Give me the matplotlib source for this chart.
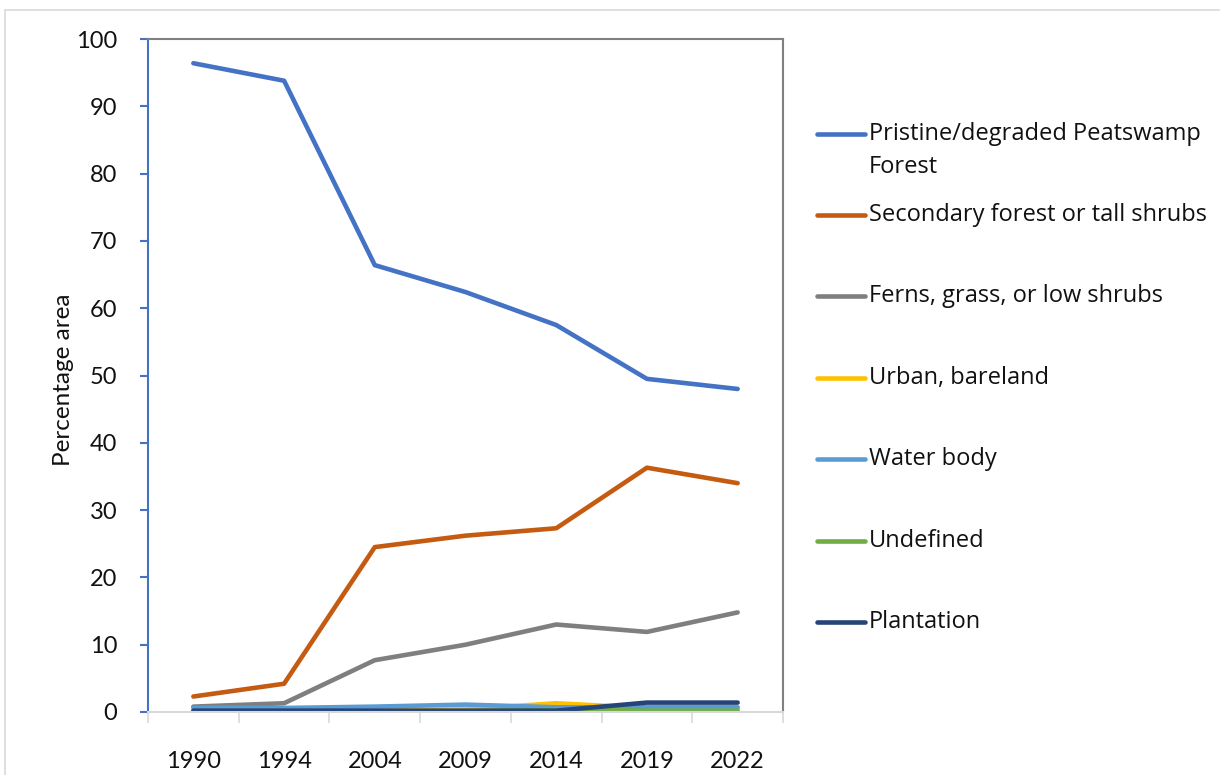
import matplotlib.pyplot as plt
from matplotlib.lines import Line2D
from matplotlib.patches import Rectangle

# Land cover share per survey year (% of study area)
years = ['1990', '1994', '2004', '2009', '2014', '2019', '2022']
peatswamp = [96.4, 93.8, 66.4, 62.4, 57.5, 49.5, 48.0]
secondary = [2.3, 4.2, 24.5, 26.2, 27.3, 36.3, 34.0]
ferns = [0.8, 1.3, 7.7, 10.0, 13.0, 11.9, 14.8]
urban = [0.1, 0.1, 0.2, 0.4, 1.3, 0.6, 0.6]
water = [0.6, 0.6, 0.8, 1.1, 0.7, 0.7, 0.7]
undefined = [0.0, 0.0, 0.0, 0.1, 0.4, 0.2, 0.2]
plantation = [0.2, 0.2, 0.2, 0.2, 0.2, 1.4, 1.4]

labels = [['Pristine/degraded Peatswamp', 'Forest'], ['Secondary forest or tall shrubs'],
          ['Ferns, grass, or low shrubs'], ['Urban, bareland'], ['Water body'],
          ['Undefined'], ['Plantation']]
series = [peatswamp, secondary, ferns, urban, water, undefined, plantation]
colors = ['#4472C4', '#C55A11', '#7F7F7F', '#FFC000', '#5B9BD5', '#70AD47', '#264478']

tick_font = 'Lato'
legend_font = 'Open Sans'
W, H = 1220, 775

fig = plt.figure(figsize=(12.2, 7.75), dpi=100)
ax = fig.add_axes([148 / W, 1 - 712 / H, (783 - 148) / W, (712 - 39) / H])

# outer frame around the figure
fig.add_artist(Rectangle((5 / W, -0.1), 1.2, 1 - 10 / H + 0.1, transform=fig.transFigure,
                         fill=False, edgecolor='#d9d9d9', linewidth=1.2))

x = list(range(len(years)))
for vals, color in zip(series, colors):
    ax.plot(x, vals, color=color, linewidth=3.3, solid_capstyle='round',
            solid_joinstyle='round')

ax.set_xlim(-0.5, len(years) - 0.5)
ax.set_ylim(0, 100)
ax.set_yticks(range(0, 101, 10))
ax.set_xticks(x)
ax.set_xticklabels(years)
ax.set_xticks([i - 0.5 for i in range(len(years) + 1)], minor=True)

for lab in ax.get_xticklabels() + ax.get_yticklabels():
    lab.set_fontfamily(tick_font)
    lab.set_fontsize(17)
    lab.set_color('#111111')

ax.tick_params(axis='x', which='major', length=0, pad=28)
ax.tick_params(axis='x', which='minor', length=8, color='#d9d9d9', width=1.2)
ax.tick_params(axis='y', length=6, color='#4472C4', width=1.5, pad=16)

ax.spines['left'].set_color('#4472C4')
ax.spines['left'].set_linewidth(1.5)
ax.spines['bottom'].set_color('#d9d9d9')
ax.spines['bottom'].set_linewidth(1.5)
ax.spines['top'].set_color('#808080')
ax.spines['top'].set_linewidth(1.5)
ax.spines['right'].set_color('#808080')
ax.spines['right'].set_linewidth(1.5)

fig.text(63 / W, 1 - 380 / H, 'Percentage area', rotation=90, ha='center', va='center',
         fontsize=17.5, fontfamily=tick_font, color='#111111')

# legend drawn by hand so the handle lines up with the first text line
legend_y = [134, 215, 296, 378, 459, 541, 622]
line_gap = 33
for lines, color, ypx in zip(labels, colors, legend_y):
    yf = 1 - ypx / H
    fig.add_artist(Line2D([817 / W, 865 / W], [yf, yf], transform=fig.transFigure,
                          color=color, linewidth=3.3, solid_capstyle='round'))
    for k, txt in enumerate(lines):
        fig.text(869 / W, 1 - (ypx + k * line_gap) / H, txt, ha='left', va='center',
                 fontsize=17, fontfamily=legend_font, color='#111111')

fig.savefig('out.png', dpi=100)
